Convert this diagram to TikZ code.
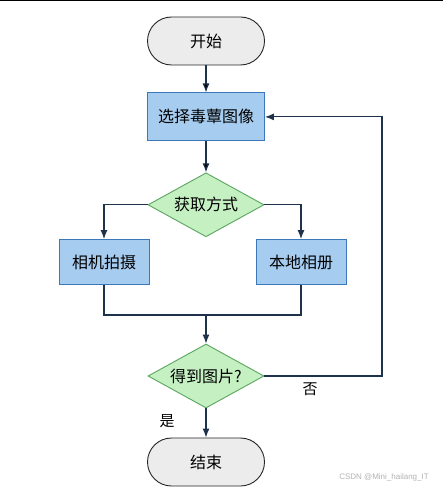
\documentclass[tikz,border=0pt]{standalone}
\usepackage{fontspec}
\setmainfont{Noto Sans CJK SC}
\newfontfamily\wmfont{Liberation Sans}
\usetikzlibrary{arrows.meta, positioning, shapes.geometric}
\definecolor{boxblue}{RGB}{166,204,240}
\definecolor{boxedge}{RGB}{60,120,185}
\definecolor{diagreen}{RGB}{196,240,194}
\definecolor{diaedge}{RGB}{90,165,95}
\definecolor{linenavy}{RGB}{30,50,75}
\begin{document}
\begin{tikzpicture}[>={Latex[length=9pt,width=7pt]}, x=1pt, y=1pt]
		\tikzset{
			terminal/.style={draw=black!85, rectangle, rounded corners=24pt, fill=gray!15, line width=0.9pt,
			minimum width=117pt, minimum height=48pt, font=\fontsize{16}{18}\selectfont},
			block/.style= {draw=boxedge, rectangle, fill=boxblue, align=center, line width=0.9pt,
			minimum width=117pt,minimum height=48pt, font=\fontsize{16}{18}\selectfont},
			smallblock/.style= {block, minimum width=90pt, minimum height=45pt},
			decision/.style={draw=diaedge, diamond, aspect=1.8, fill=diagreen, inner sep=0pt, line width=0.9pt,
			minimum width=116pt, minimum height=64pt, font=\fontsize{16}{18}\selectfont},
			flow/.style={draw=linenavy, line width=1.1pt},
		}
		\useasboundingbox (0,0) rectangle (443,-489);
		\draw[line width=1.5pt] (0,-0.75) -- (443,-0.75);

		%nodes
		\node (start) [terminal] at (206,-41) {开始};
		\node (select) [block, below=27pt of start] {选择毒蕈图像};
		\node (way) [decision, below=31pt of select] {获取方式};
		\node (camera) [smallblock] at (104,-262) {相机拍摄};
		\node (album) [smallblock] at (301,-262) {本地相册};
		\node (got) [decision] at (206,-376) {得到图片?};
		\node (stop) [terminal] at (206,-462) {结束};

		\node [coordinate] (merge) at (206,-315) {};  %% join of the two branches
		\node [coordinate] (back) at (382,-376) {};   %% corner of the loop back
		\node [coordinate] (camcoor) at (camera |- merge) {};
		\node [coordinate] (albcoor) at (album |- merge) {};

		\path[flow,->] (start) edge (select)
					(select) edge (way)
					(way.west) -| (camera.north);
		\path[flow,->] (way.east) -| (album.north);
		\path[flow] (camera.south) -- (camcoor) -- (albcoor) -- (album.south);
		\path[flow,->] (merge) -- (got);
		\path[flow,->] (got.east) -- (back) |- (select.east);
		\path[flow,->] (got) -- (stop);

		%labels
		\node (no) [font=\fontsize{15}{17}\selectfont] at (310,-389) {否};
		\node (yes) [font=\fontsize{15}{17}\selectfont] at (167,-421) {是};
		\node (mark) [text=gray!60, font=\wmfont\fontsize{8}{10}\selectfont] at (384,-477) {CSDN @Mini\_hailang\_IT};
	\end{tikzpicture}
\end{document}
